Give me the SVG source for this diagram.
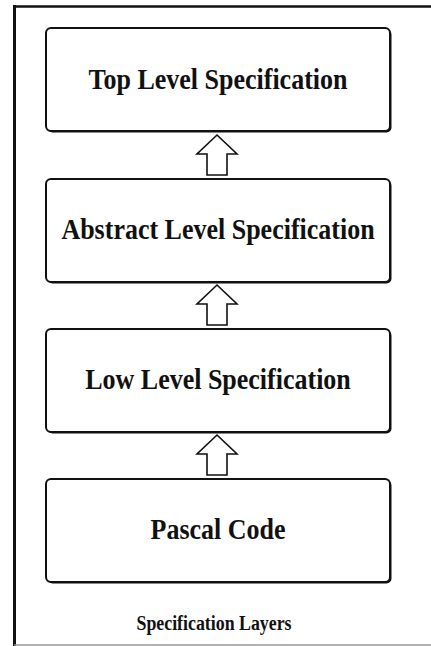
<svg xmlns="http://www.w3.org/2000/svg" width="431" height="646" viewBox="0 0 431 646">
<style>
.box{fill:#fff;stroke:#111;stroke-width:2}
.shadow{fill:#111}
.lbl{font-family:"Liberation Serif","Times New Roman",serif;font-weight:bold;font-size:26px;fill:#111;text-anchor:middle}
.cap{font-family:"Liberation Serif","Times New Roman",serif;font-weight:bold;font-size:17px;fill:#111;text-anchor:middle}
.arrow{fill:#fff;stroke:#111;stroke-width:1.6;stroke-linejoin:miter}
</style>
<rect width="431" height="646" fill="#fff"/>
<g id="frame">
<line x1="14.5" y1="5" x2="14.5" y2="646" stroke="#111" stroke-width="3"/>
<line x1="13" y1="6.5" x2="431" y2="6.5" stroke="#111" stroke-width="2.5"/>
<line x1="14" y1="645" x2="431" y2="645" stroke="#999" stroke-width="1.5"/>
</g>
<g id="node-top">
<rect class="shadow" x="47.5" y="29.5" width="344" height="103" rx="5"/>
<rect class="box" x="46" y="28" width="344" height="103" rx="5"/>
<text class="lbl" transform="translate(218,89) scale(1,1.15)">Top Level Specification</text>
</g>
<g id="node-abstract">
<rect class="shadow" x="47.5" y="180.5" width="344" height="103" rx="5"/>
<rect class="box" x="46" y="179" width="344" height="103" rx="5"/>
<text class="lbl" transform="translate(218,239) scale(1,1.15)">Abstract Level Specification</text>
</g>
<g id="node-low">
<rect class="shadow" x="47.5" y="330.5" width="344" height="103" rx="5"/>
<rect class="box" x="46" y="329" width="344" height="103" rx="5"/>
<text class="lbl" transform="translate(218,389) scale(1,1.15)">Low Level Specification</text>
</g>
<g id="node-pascal">
<rect class="shadow" x="47.5" y="480.5" width="344" height="103" rx="5"/>
<rect class="box" x="46" y="479" width="344" height="103" rx="5"/>
<text class="lbl" transform="translate(218,539) scale(1,1.15)">Pascal Code</text>
</g>
<g id="connectors">
<polygon class="arrow" points="217,135 237,154 227,154 227,175 207,175 207,154 197,154"/>
<polygon class="arrow" points="217,285 237,304 227,304 227,325 207,325 207,304 197,304"/>
<polygon class="arrow" points="217,435 237,454 227,454 227,475 207,475 207,454 197,454"/>
</g>
<g id="caption">
<text class="cap" transform="translate(214,630) scale(1.05,1.2)">Specification Layers</text>
</g>
</svg>
